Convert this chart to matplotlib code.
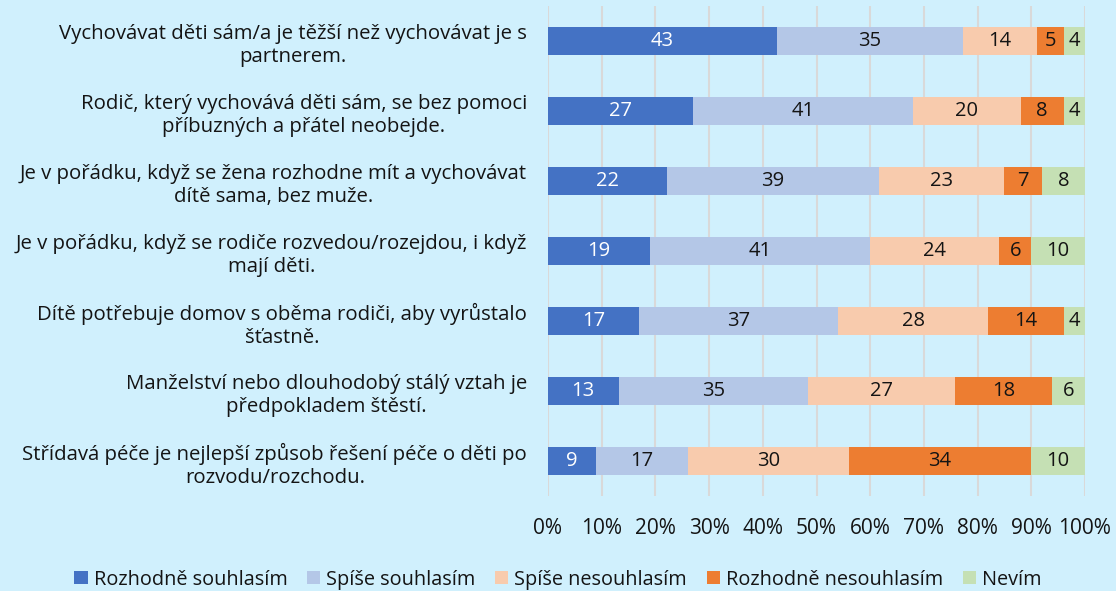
import matplotlib
matplotlib.use("Agg")
import matplotlib.pyplot as plt
from matplotlib.patches import Patch
import numpy as np

plt.rcParams['font.family'] = ['Open Sans', 'DejaVu Sans']

categories = [
    "Vychovávat děti sám/a je těžší než vychovávat je s\npartnerem.",
    "Rodič, který vychovává děti sám, se bez pomoci\npříbuzných a přátel neobejde.",
    "Je v pořádku, když se žena rozhodne mít a vychovávat\ndítě sama, bez muže.",
    "Je v pořádku, když se rodiče rozvedou/rozejdou, i když\nmají děti.",
    "Dítě potřebuje domov s oběma rodiči, aby vyrůstalo\nšťastně.",
    "Manželství nebo dlouhodobý stálý vztah je\npředpokladem štěstí.",
    "Střídavá péče je nejlepší způsob řešení péče o děti po\nrozvodu/rozchodu.",
]
series_names = ["Rozhodně souhlasím", "Spíše souhlasím", "Spíše nesouhlasím",
                "Rozhodně nesouhlasím", "Nevím"]
rozhodne_souhlasim = [43, 27, 22, 19, 17, 13, 9]
spise_souhlasim = [35, 41, 39, 41, 37, 35, 17]
spise_nesouhlasim = [14, 20, 23, 24, 28, 27, 30]
rozhodne_nesouhlasim = [5, 8, 7, 6, 14, 18, 34]
nevim = [4, 4, 8, 10, 4, 6, 10]
x_ticks = [0, 10, 20, 30, 40, 50, 60, 70, 80, 90, 100]
x_ticklabels = ["0%", "10%", "20%", "30%", "40%", "50%", "60%", "70%", "80%", "90%", "100%"]

colors = ["#4472C4", "#B4C7E7", "#F8CBAD", "#ED7D31", "#C5E0B4"]
txt = "#141414"
label_colors = ["white", txt, txt, txt, txt]
bg = "#D0F0FD"

data = np.array([rozhodne_souhlasim, spise_souhlasim, spise_nesouhlasim,
                 rozhodne_nesouhlasim, nevim], dtype=float)
totals = data.sum(axis=0)
shares = data / totals * 100

fig = plt.figure(figsize=(11.16, 5.91), dpi=100, facecolor=bg)
ax = fig.add_axes([548/1116, 1-496/591, (1085-548)/1116, 490/591])
ax.set_facecolor(bg)

y = np.arange(len(categories))
left = np.zeros(len(categories))
for i in range(len(series_names)):
    ax.barh(y, shares[i], left=left, height=0.4, color=colors[i],
            edgecolor='none', zorder=3)
    for j in range(len(categories)):
        ax.text(left[j] + shares[i][j]/2, y[j], f"{int(data[i][j])}",
                ha='center', va='center', fontsize=14.5,
                color=label_colors[i], zorder=4)
    left += shares[i]

ax.set_xlim(0, 100)
ax.set_ylim(len(categories)-0.5, -0.5)
ax.set_xticks(x_ticks)
ax.set_xticklabels(x_ticklabels, fontsize=15, color=txt)
ax.set_yticks(y)
ax.set_yticklabels(categories, fontsize=14.7, color=txt)
for t in ax.get_yticklabels():
    t.set_multialignment('center')
    t.set_linespacing(1.25)
ax.tick_params(axis='both', length=0)
ax.tick_params(axis='y', pad=15)
ax.tick_params(axis='x', pad=16)
ax.grid(axis='x', color='#D9D9D9', linewidth=1.5, zorder=0)
for s in ax.spines.values():
    s.set_visible(False)

handles = [Patch(facecolor=c, edgecolor='none') for c in colors]
fig.legend(handles, series_names, loc='lower center', bbox_to_anchor=(0.5, -0.028),
           ncol=5, frameon=False, fontsize=14.3, handlelength=0.66, handleheight=0.66,
           handletextpad=0.3, columnspacing=1.0, labelcolor=txt)

fig.savefig("out.png", dpi=100, facecolor=bg)
